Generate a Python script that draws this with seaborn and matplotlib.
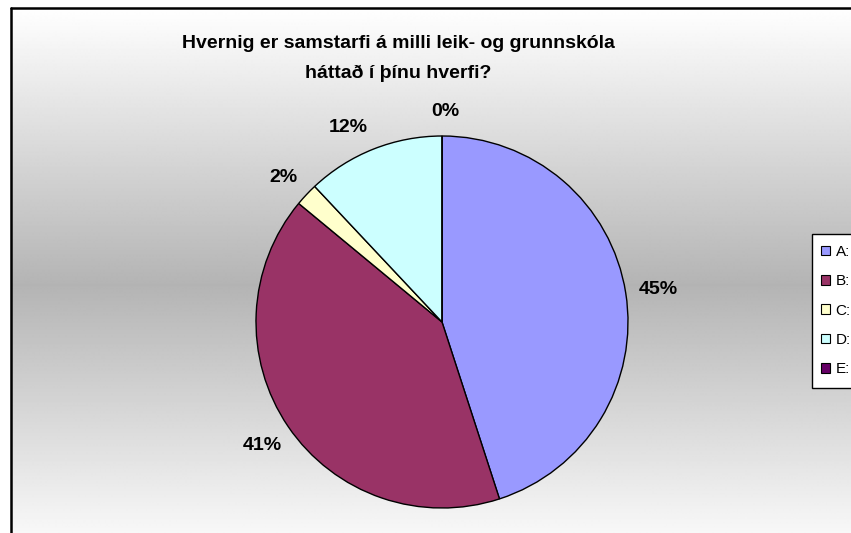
import numpy as np
import matplotlib
matplotlib.use("Agg")
import matplotlib.pyplot as plt
import seaborn as sns
from matplotlib.patches import Rectangle, Patch

# ---- data ----
categories = ["A:", "B:", "C:", "D:", "E:"]
values = [45, 41, 2, 12, 0]
colors = ["#9999FF", "#993366", "#FFFFCC", "#CCFFFF", "#660066"]
title = "Hvernig er samstarfi á milli leik- og grunnskóla\nháttað í þínu hverfi?"

# ---- layout (pixels, top-down) ----
W, H = 851, 533
pie_center = (442, 322)
pie_radius = 186
label_pos = [(658, 290), (262, 446), (283, 177), (348, 127), (445, 112)]

sns.set_theme(style="white")
plt.rcParams['font.family'] = ['Liberation Sans', 'DejaVu Sans']
plt.rcParams['text.color'] = 'black'

fig = plt.figure(figsize=(W / 100, H / 100), dpi=100)
fig.patch.set_facecolor("white")
ax = fig.add_axes([0, 0, 1, 1])

# background gradient (white -> gray -> white)
ys = np.arange(8, H + 1)
mid = 285
g = np.where(ys < mid,
             255 - 75 * (ys - 8) / (mid - 8),
             180 + 75 * (ys - mid) / (560 - mid)) / 255.0
grad = np.repeat(g[:, None], 2, axis=1)
ax.imshow(grad, cmap="gray", vmin=0, vmax=1, extent=(11, W + 5, 0, H - 8),
          aspect="auto", zorder=0, interpolation="bilinear")
ax.plot([11, 11], [0, H - 8], color="black", lw=1.8, zorder=1)
ax.plot([11, W + 5], [H - 8, H - 8], color="black", lw=1.8, zorder=1)

cx, cy = pie_center[0], H - pie_center[1]
wedges, _ = ax.pie(values, colors=colors, startangle=90, counterclock=False,
                   center=(cx, cy), radius=pie_radius, frame=True,
                   wedgeprops=dict(edgecolor="black", linewidth=1.0, zorder=2))

for v, (lx, ly) in zip(values, label_pos):
    ax.text(lx, H - ly, f"{v}%", ha="center", va="center", fontsize=14,
            fontweight="bold", color="black", zorder=3)

ax.text(398, H - 58.5, title, ha="center", va="center", fontsize=14,
        fontweight="bold", linespacing=1.97, color="black", zorder=3)

# legend
ax.add_patch(Rectangle((812, H - 388), 60, 154, facecolor="white",
                       edgecolor="black", lw=1.0, zorder=3, clip_on=False))
handles = [Patch(facecolor=c, edgecolor="black", lw=0.8) for c in colors]
leg = ax.legend(handles, categories, loc="upper left",
                bbox_to_anchor=(821 / W, 1 - 245 / H), frameon=False,
                fontsize=11, handlelength=0.6, handleheight=0.6,
                handletextpad=0.35, labelspacing=1.0, borderpad=0,
                borderaxespad=0)
leg.set_zorder(4)
for t in leg.get_texts():
    t.set_color("black")

ax.set_xlim(0, W)
ax.set_ylim(0, H)
ax.set_aspect("auto")
ax.axis("off")

fig.savefig("out.png", dpi=100, facecolor="white")
